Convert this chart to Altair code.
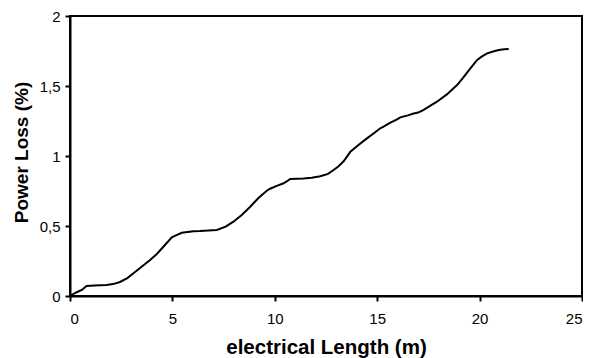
import altair as alt
import pandas as pd

length_m = [0.0, 0.3, 0.6, 0.73, 0.81, 1.2, 1.79, 2.1, 2.44, 2.8, 3.1, 3.42, 3.91, 4.24, 4.56, 4.97,
            5.2, 5.46, 6.03, 6.35, 7.17, 7.6, 7.98, 8.4, 8.8, 9.2, 9.61, 9.77, 10.1, 10.43, 10.6,
            10.75, 11.4, 11.8, 12.22, 12.6, 12.87, 13.1, 13.36, 13.69, 14.1, 14.5, 14.9, 15.15,
            15.31, 15.6, 15.97, 16.13, 16.5, 16.78, 17.0, 17.27, 17.6, 17.92, 18.4, 18.9, 19.2,
            19.55, 19.88, 20.1, 20.37, 20.7, 20.94, 21.2, 21.42]
power_loss = [0.0, 0.025, 0.045, 0.062, 0.071, 0.075, 0.079, 0.085, 0.10, 0.128, 0.162, 0.20, 0.257,
              0.30, 0.352, 0.419, 0.435, 0.452, 0.462, 0.464, 0.472, 0.495, 0.531, 0.58, 0.638, 0.70,
              0.752, 0.766, 0.787, 0.805, 0.82, 0.836, 0.84, 0.845, 0.855, 0.872, 0.9, 0.925, 0.962,
              1.03, 1.08, 1.126, 1.17, 1.198, 1.21, 1.235, 1.262, 1.276, 1.29, 1.303, 1.31, 1.33,
              1.36, 1.388, 1.44, 1.507, 1.56, 1.626, 1.686, 1.71, 1.733, 1.748, 1.757, 1.762, 1.764]

df = pd.DataFrame({"x": length_m, "y": power_loss})

chart = alt.Chart(df).mark_line(color="black", strokeWidth=2).encode(
    x=alt.X("x:Q", title="electrical Length (m)",
            scale=alt.Scale(domain=[0, 25], nice=False),
            axis=alt.Axis(values=[0, 5, 10, 15, 20, 25], grid=False, labelPadding=10,
                          titleFontSize=20.5, titleBaseline="alphabetic", titleY=57)),
    y=alt.Y("y:Q", title="Power Loss (%)",
            scale=alt.Scale(domain=[0, 2], nice=False),
            axis=alt.Axis(values=[0, 0.5, 1, 1.5, 2], grid=False, labelPadding=5,
                          titlePadding=8, titleFontSize=19, titleY=136,
                          labelExpr="replace(format(datum.value, ''), '.', ',')")),
    order=alt.Order("x:Q"),
).properties(
    width=512, height=280,
    autosize=alt.AutoSizeParams(type="none"),
    padding={"left": 62, "top": 8, "right": 1, "bottom": 62},
).configure_view(
    stroke="black", strokeWidth=2
).configure_axis(
    domainColor="black", domainWidth=2, tickColor="black", tickWidth=2, tickSize=5,
    labelFont="Liberation Sans", labelFontSize=15, labelColor="black",
    titleFont="Liberation Sans", titleFontWeight="bold", titleColor="black",
)

chart.save("out.html", embed_options={"renderer": "svg", "actions": False})
